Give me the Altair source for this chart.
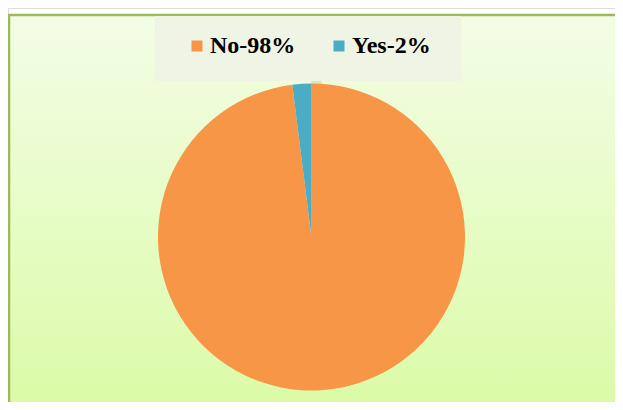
import altair as alt
import pandas as pd

categories = ["No", "Yes"]
percents = [98, 2]
colors = ["#F79646", "#4BACC6"]

labels = [f"{c}-{p}%" for c, p in zip(categories, percents)]
df = pd.DataFrame({"label": labels, "value": percents})

W, H = 607, 394
CX, CY, R = 303.5, 229, 153.5

bg = alt.Chart(pd.DataFrame({"a": [0]})).mark_rect(
    fill=alt.Gradient(
        gradient="linear",
        stops=[alt.GradientStop(color="#F3FDE6", offset=0),
               alt.GradientStop(color="#DAFBA5", offset=1)],
        x1=0, x2=0, y1=0, y2=1,
    ),
    stroke="#9BBB59", strokeWidth=2.5, strokeOpacity=1, opacity=1,
).encode(x=alt.value(1), x2=alt.value(W + 20), y=alt.value(7), y2=alt.value(H + 20))

legbox = alt.Chart(pd.DataFrame({"a": [0]})).mark_rect(color="#F0F4E4", opacity=1).encode(
    x=alt.value(147), x2=alt.value(453), y=alt.value(8), y2=alt.value(73)
)

glows = []
for extra, op in [(10, 0.10), (6, 0.12), (3, 0.15)]:
    glows.append(
        alt.Chart(pd.DataFrame({"v": [1]})).mark_arc(
            color="#9CC27A", opacity=op, outerRadius=R + extra
        ).encode(theta=alt.Theta("v:Q"), x=alt.value(CX), y=alt.value(CY))
    )

pie = alt.Chart(df).mark_arc(outerRadius=R).encode(
    theta=alt.Theta("value:Q", stack=True),
    color=alt.Color(
        "label:N",
        scale=alt.Scale(domain=labels, range=colors),
        legend=alt.Legend(
            title=None,
            orient="none",
            legendX=177,
            legendY=26,
            direction="horizontal",
            symbolType="square",
            symbolSize=121,
            symbolStrokeWidth=0,
            labelFont="Liberation Serif",
            labelFontWeight="bold",
            labelFontSize=24,
            labelColor="#000000",
            labelOffset=1,
            columnPadding=31,
            padding=0,
        ),
    ),
    order=alt.Order("label:N"),
    x=alt.value(CX),
    y=alt.value(CY),
)

chart = alt.layer(bg, *glows, legbox, pie).properties(
    width=W, height=H, padding=0, autosize=alt.AutoSizeParams(type="none")
).configure_view(stroke=None).configure(background="#FFFFFF")

chart.save("out.html", embed_options={"renderer": "svg", "actions": False})
